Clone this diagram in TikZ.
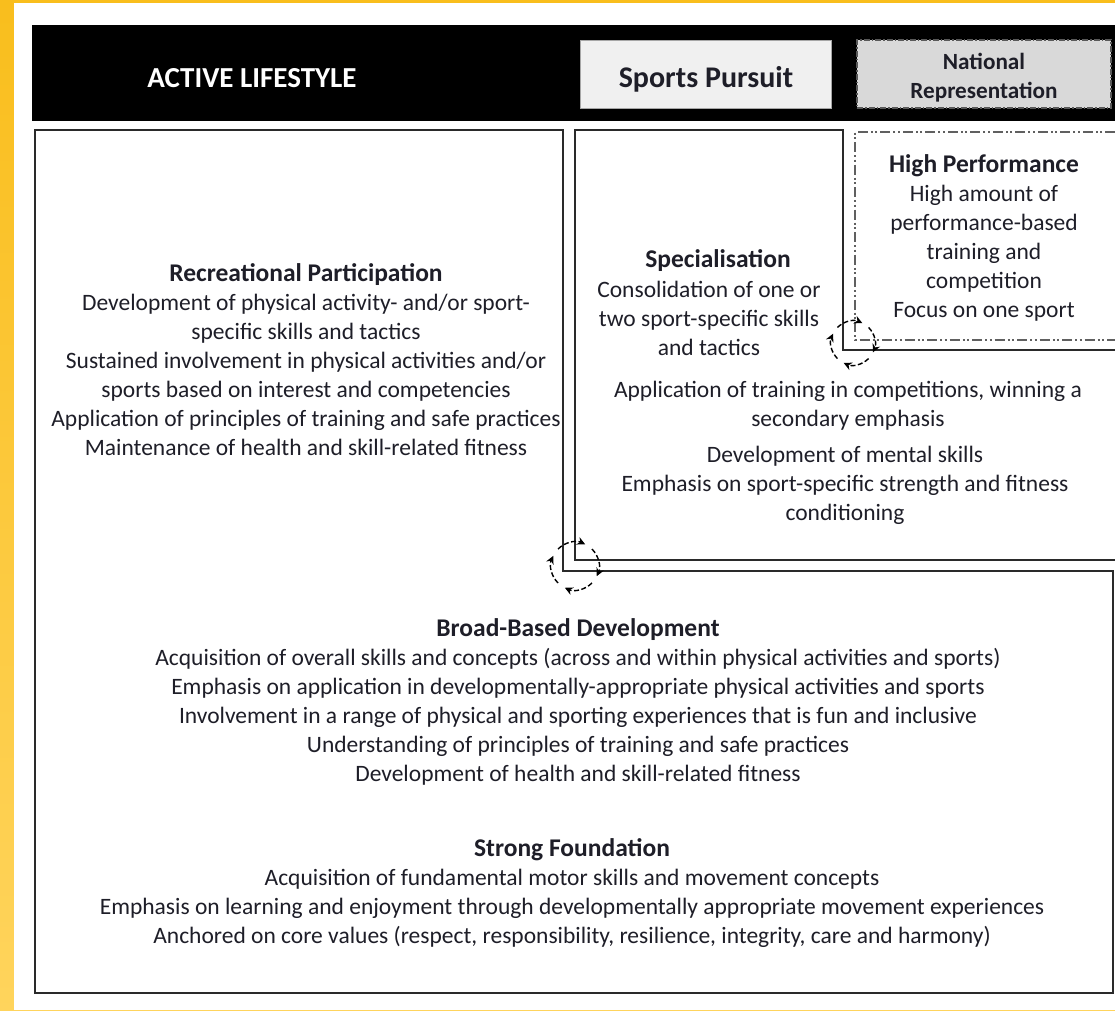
\documentclass[tikz,border=0pt]{standalone}
\usepackage{fontspec}
\setmainfont{Carlito}
\usetikzlibrary{arrows.meta}
\definecolor{yelA}{HTML}{F9BE1D}
\definecolor{yelB}{HTML}{FFD45C}
\definecolor{txt}{HTML}{1E1E28}
\definecolor{ln}{HTML}{2A2A2A}
\definecolor{spfill}{HTML}{F0F0F0}
\definecolor{nrfill}{HTML}{D9D9D9}
\newcommand{\ttl}[1]{{\bfseries\fontsize{25.5}{29}\selectfont #1}}
\begin{document}
\begin{tikzpicture}[x=1pt,y=-1pt,
  body/.style={text=txt,font=\fontsize{23.5}{29}\selectfont,align=center,inner sep=0pt},
  frame/.style={draw=ln,line width=2pt},
  hpline/.style={draw=gray!75!black,line width=1.8pt,dash pattern=on 10pt off 3pt on 2pt off 2.5pt on 2pt off 3pt},
  cyc/.style={draw=black,line width=1.4pt,dash pattern=on 5pt off 2.5pt,-{Stealth[length=8pt,width=8pt]}}]
\useasboundingbox (0,0) rectangle (1115,1010);
\shade[top color=yelA,bottom color=yelB] (0,0) rectangle (1115,1010);
\fill[white] (14,3) rectangle (1115,1010);
% header
\fill[black] (32,25) rectangle (1115,121);
\node[text=white,font=\bfseries\fontsize{29}{32}\selectfont] (al) at (252,78) {ACTIVE LIFESTYLE};
\node[draw=gray!70,line width=1pt,fill=spfill,minimum width=251pt,minimum height=68pt,inner sep=0pt] (sp) at (706,74) {};
\node[text=txt,font=\bfseries\fontsize{30}{32}\selectfont,inner sep=0pt] (spt) at (706,79) {Sports Pursuit};
\node[draw=gray!70!black,line width=1.3pt,dash pattern=on 6pt off 2pt on 1.5pt off 2pt,fill=nrfill,
      minimum width=254pt,minimum height=68pt,inner sep=0pt] (nr) at (984,74) {};
\node[text=txt,font=\bfseries\fontsize{23.2}{29}\selectfont,align=center,inner sep=0pt] (nrt) at (984,78) {National\\Representation};
% frames
\coordinate (r1) at (35,130);
\coordinate (r2) at (563,130);
\coordinate (r3) at (563,571);
\coordinate (r4) at (1113,571);
\coordinate (r5) at (1113,993);
\coordinate (r6) at (35,993);
\draw[frame] (r1) -- (r2) -- (r3) -- (r4) -- (r5) -- (r6) -- cycle;
\coordinate (s1) at (1115,560);
\coordinate (s2) at (575,560);
\coordinate (s3) at (575,130);
\coordinate (s4) at (843,130);
\coordinate (s5) at (843,350);
\coordinate (s6) at (1115,350);
\draw[frame] (s1) -- (s2) -- (s3) -- (s4) -- (s5) -- (s6);
\coordinate (h1) at (1115,132);
\coordinate (h2) at (855,132);
\coordinate (h3) at (855,340);
\coordinate (h4) at (1115,340);
\draw[hpline] (h1) -- (h2) -- (h3) -- (h4);
% cycle arrows
\coordinate (c1) at (575,566);
\coordinate (c2) at (853,343);
\foreach \s/\e in {135/65,45/-25,-45/-115,225/155}{
  \draw[cyc] (c1) ++(\s:24pt) arc[start angle=\s,end angle=\e,radius=24pt];
  \draw[cyc] (c2) ++(\s:22pt) arc[start angle=\s,end angle=\e,radius=22pt];
}
% texts
\node[body] (rec) at (306,360) {\ttl{Recreational Participation}\\
Development of physical activity- and/or sport-\\
specific skills and tactics\\
Sustained involvement in physical activities and/or\\
sports based on interest and competencies\\
Application of principles of training and safe practices\\
Maintenance of health and skill-related fitness};
\node[body] (spect) at (718,261) {\ttl{Specialisation}};
\node[body] (spec) at (709,318) {Consolidation of one or\\
two sport-specific skills\\
and tactics};
\node[body] (spec2) at (848,405.5) {Application of training in competitions, winning a\\
secondary emphasis};
\node[body] (spec3) at (845,485) {Development of mental skills\\
Emphasis on sport-specific strength and fitness\\
conditioning};
\node[body] (hp) at (984,237.5) {\ttl{High Performance}\\
High amount of\\
performance-based\\
training and\\
competition\\
Focus on one sport};
\node[body] (bbd) at (578,701.5) {\ttl{Broad-Based Development}\\
Acquisition of overall skills and concepts (across and within physical activities and sports)\\
Emphasis on application in developmentally-appropriate physical activities and sports\\
Involvement in a range of physical and sporting experiences that is fun and inclusive\\
Understanding of principles of training and safe practices\\
Development of health and skill-related fitness};
\node[body] (sf) at (572,893.5) {\ttl{Strong Foundation}\\
Acquisition of fundamental motor skills and movement concepts\\
Emphasis on learning and enjoyment through developmentally appropriate movement experiences\\
Anchored on core values (respect, responsibility, resilience, integrity, care and harmony)};
\end{tikzpicture}
\end{document}
